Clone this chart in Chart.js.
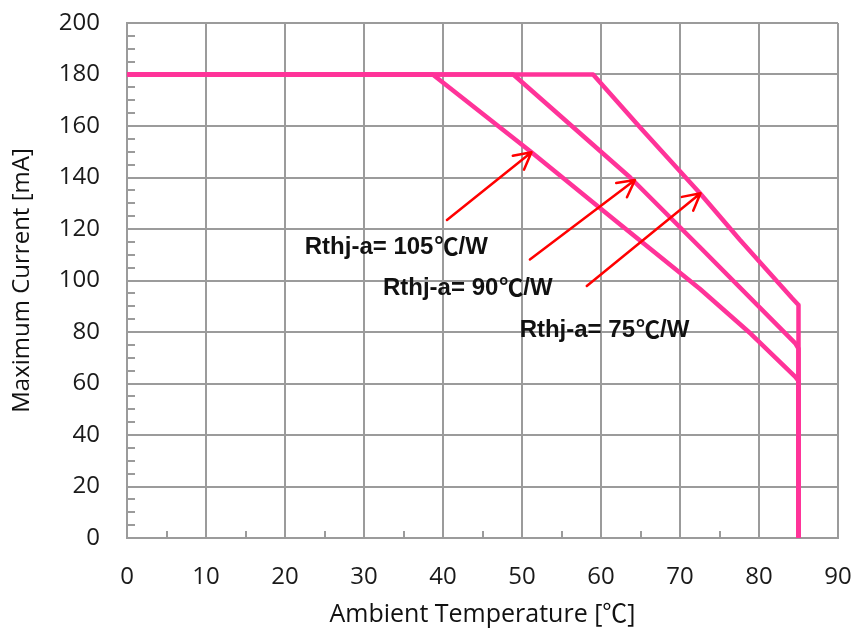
<!DOCTYPE html>
<html><head><meta charset="utf-8">
<script src="https://cdn.jsdelivr.net/npm/chart.js@4.4.0/dist/chart.umd.min.js"></script>
<style>html,body{margin:0;padding:0;background:#fff;}#wrap{width:855px;height:632px;}</style>
</head><body><div id="wrap"><canvas id="c" width="855" height="632"></canvas></div>
<script>
// ---- data ----
const xTickValues = [0, 10, 20, 30, 40, 50, 60, 70, 80, 90];
const yTickValues = [0, 20, 40, 60, 80, 100, 120, 140, 160, 180, 200];
const xMinorTicks = [5, 15, 25, 35, 45, 55, 65, 75, 85];
const yMinorTicks = [5, 10, 15, 25, 30, 35, 45, 50, 55, 65, 70, 75, 85, 90, 95, 105, 110, 115, 125, 130, 135, 145, 150, 155, 165, 170, 175, 185, 190, 195];

const temp105 = [0, 38.7, 51.2, 62, 72.5, 79, 84.6, 85, 85];
const curr105 = [180, 180, 149.8, 122.8, 96.8, 79.2, 62.6, 61, 0];
const temp90 = [0, 48.9, 63.7, 72.5, 84.6, 85, 85];
const curr90 = [180, 180, 140, 113, 75.6, 73.5, 0];
const temp75 = [0, 59, 64.9, 72.5, 77.6, 84.2, 85, 85];
const curr75 = [180, 180, 159.6, 134, 115.7, 93.1, 90.5, 0];

const labelPrefix = ['Rthj-a= 105', 'Rthj-a= 90', 'Rthj-a= 75'];
const labelUnit = '\u2103';
const labelSuffix = '/W';
const labelX = [22.5, 32.4, 49.7];
const labelY = [110.3, 94.4, 78.1];

const arrowFromX = [40.5, 51.0, 58.2];
const arrowFromY = [123.5, 108.2, 97.9];
const arrowToX = [51.2, 64.3, 72.6];
const arrowToY = [149.8, 139.0, 133.9];

function pts(xs, ys) { return xs.map((x, i) => ({x: x, y: ys[i]})); }

const GRID = '#9b9b9b';
const PINK = '#ff3399';

const overlayPlugin = {
  id: 'overlay',
  beforeDatasetsDraw(chart) {
    const ctx = chart.ctx, xs = chart.scales.x, ys = chart.scales.y, a = chart.chartArea;
    ctx.save();
    ctx.strokeStyle = GRID;
    ctx.lineWidth = 2;
    ctx.beginPath();
    yMinorTicks.forEach(v => {
      const py = Math.round(ys.getPixelForValue(v));
      ctx.moveTo(a.left, py); ctx.lineTo(a.left + 8, py);
    });
    xMinorTicks.forEach(v => {
      const px = Math.round(xs.getPixelForValue(v));
      ctx.moveTo(px, a.bottom); ctx.lineTo(px, a.bottom - 7);
    });
    ctx.stroke();
    ctx.restore();
  },
  afterDatasetsDraw(chart) {
    const ctx = chart.ctx, xs = chart.scales.x, ys = chart.scales.y;
    ctx.save();
    ctx.strokeStyle = '#ff0000';
    ctx.lineWidth = 2.5;
    ctx.lineCap = 'round';
    ctx.lineJoin = 'round';
    for (let i = 0; i < arrowFromX.length; i++) {
      const x1 = xs.getPixelForValue(arrowFromX[i]), y1 = ys.getPixelForValue(arrowFromY[i]);
      const x2 = xs.getPixelForValue(arrowToX[i]), y2 = ys.getPixelForValue(arrowToY[i]);
      const ang = Math.atan2(y2 - y1, x2 - x1);
      const L = 19, s = 28 * Math.PI / 180;
      ctx.beginPath();
      ctx.moveTo(x1, y1); ctx.lineTo(x2, y2);
      ctx.moveTo(x2 - L * Math.cos(ang - s), y2 - L * Math.sin(ang - s));
      ctx.lineTo(x2, y2);
      ctx.lineTo(x2 - L * Math.cos(ang + s), y2 - L * Math.sin(ang + s));
      ctx.stroke();
    }
    ctx.fillStyle = '#111111';
    ctx.textAlign = 'left';
    ctx.textBaseline = 'alphabetic';
    const latin = 'bold 24px "Liberation Sans", sans-serif';
    const cjk = 'bold 24px "Noto Sans CJK KR", sans-serif';
    for (let i = 0; i < labelPrefix.length; i++) {
      let px = xs.getPixelForValue(labelX[i]);
      const py = ys.getPixelForValue(labelY[i]);
      ctx.font = latin;
      ctx.fillText(labelPrefix[i], px, py);
      px += ctx.measureText(labelPrefix[i]).width + 1;
      ctx.font = cjk;
      ctx.fillText(labelUnit, px, py + 1);
      px += ctx.measureText(labelUnit).width;
      ctx.font = latin;
      ctx.fillText(labelSuffix, px, py);
    }
    ctx.restore();
  }
};

const tickFont = {family: '"Open Sans", "Noto Sans CJK KR", sans-serif', size: 24, lineHeight: 1.2};
const titleFont = {family: '"Open Sans", "Noto Sans CJK KR", sans-serif', size: 25, lineHeight: 1.2};

new Chart(document.getElementById('c'), {
  type: 'line',
  data: {
    datasets: [
      {label: '105', data: pts(temp105, curr105)},
      {label: '90', data: pts(temp90, curr90)},
      {label: '75', data: pts(temp75, curr75)}
    ].map(d => Object.assign(d, {
      borderColor: PINK, backgroundColor: PINK, borderWidth: 4.5,
      pointRadius: 0, tension: 0, fill: false,
      borderJoinStyle: 'round', borderCapStyle: 'butt'
    }))
  },
  options: {
    responsive: false,
    animation: false,
    devicePixelRatio: 1,
    layout: {padding: {left: 0, right: 17, top: 23, bottom: 0}},
    plugins: {legend: {display: false}, tooltip: {enabled: false}},
    scales: {
      x: {
        type: 'linear', min: 0, max: 90,
        afterBuildTicks: s => { s.ticks = xTickValues.map(v => ({value: v})); },
        afterFit: s => { s.height = 94; s.paddingLeft = 0; s.paddingRight = 0; },
        grid: {color: GRID, lineWidth: 2, drawTicks: false},
        border: {color: GRID, width: 2},
        ticks: {color: '#1a1a1a', font: tickFont, padding: 25, maxRotation: 0, autoSkip: false},
        title: {display: true, text: 'Ambient Temperature [\u2103]', color: '#111111',
          font: titleFont, padding: {top: 0, bottom: 2}}
      },
      y: {
        type: 'linear', min: 0, max: 200,
        afterBuildTicks: s => { s.ticks = yTickValues.map(v => ({value: v})); },
        afterFit: s => { s.width = 127; s.paddingTop = 0; s.paddingBottom = 0; },
        grid: {color: GRID, lineWidth: 2, drawTicks: false},
        border: {color: GRID, width: 2},
        ticks: {color: '#1a1a1a', font: tickFont, padding: 27, autoSkip: false},
        title: {display: true, text: 'Maximum Current [mA]', color: '#111111',
          font: tickFont, padding: {top: 8, bottom: 0}}
      }
    }
  },
  plugins: [overlayPlugin]
});
</script>
</body></html>
